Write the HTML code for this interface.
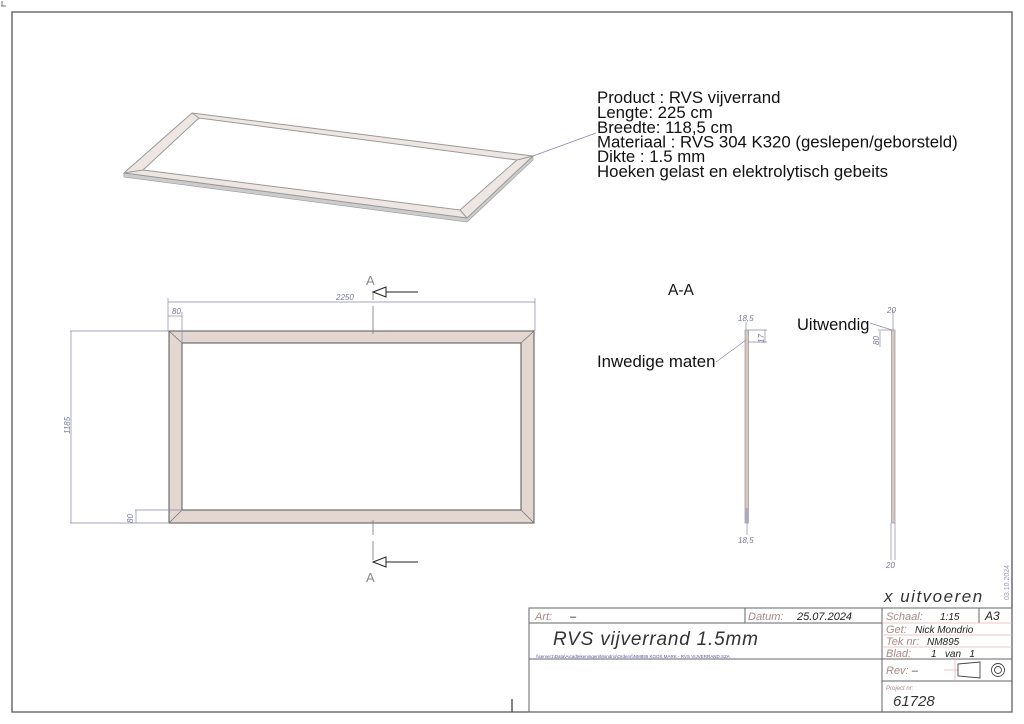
<!DOCTYPE html>
<html><head><meta charset="utf-8"><style>
html,body{margin:0;padding:0;background:#fff}
svg{display:block}
text{font-family:"Liberation Sans",sans-serif}
.l{fill:#a88;font-style:italic}
.v{fill:#222;font-style:italic}
.d{fill:#779;font-style:italic;font-size:8px}
</style></head><body>
<svg width="1024" height="724" viewBox="0 0 1024 724" xmlns="http://www.w3.org/2000/svg">
<rect x="0" y="0" width="1024" height="724" fill="#fff"/>
<path d="M12 12 H1012 V712 H12 Z" fill="none" stroke="#555" stroke-width="1.3"/>
<path d="M1 6 H6 M2 1 V6" stroke="#777" stroke-width="1"/>
<line x1="512" y1="699" x2="512" y2="712" stroke="#333" stroke-width="1.2"/>

<!-- iso view -->
<polygon points="124,173 467,218 533,156 533,160 467,222 124,177" fill="#ccc" stroke="#999" stroke-width="0.6"/>
<path d="M192 113 L533 156 L467 218 L124 173 Z M199 118 L143 170 L460 210 L517 160 Z" fill="#eee6e2" fill-rule="evenodd" stroke="#999" stroke-width="1"/>
<line x1="192" y1="113" x2="199" y2="118" stroke="#999"/>
<line x1="533" y1="156" x2="517" y2="160" stroke="#999"/>
<line x1="467" y1="218" x2="460" y2="210" stroke="#999"/>
<line x1="124" y1="173" x2="143" y2="170" stroke="#999"/>
<line x1="533" y1="156" x2="596" y2="133" stroke="#88a" stroke-width="0.7"/>

<g font-size="16.8" fill="#111">
<text x="597" y="103">Product : RVS vijverrand</text>
<text x="597" y="118">Lengte: 225 cm</text>
<text x="597" y="133">Breedte: 118,5 cm</text>
<text x="597" y="147.5">Materiaal : RVS 304 K320 (geslepen/geborsteld)</text>
<text x="597" y="162">Dikte : 1.5 mm</text>
<text x="597" y="177">Hoeken gelast en elektrolytisch gebeits</text>
</g>

<!-- front view -->
<path d="M169 331 H534 V523 H169 Z M182 343 V510 H521 V343 Z" fill="#e4d6d0" fill-rule="evenodd" stroke="#555" stroke-width="1"/>
<path d="M169 331 L182 343 M534 331 L521 343 M534 523 L521 510 M169 523 L182 510" stroke="#777" stroke-width="0.8"/>
<g stroke="#88a" stroke-width="0.7" fill="none">
<line x1="168" y1="302" x2="535" y2="302"/>
<line x1="168" y1="298" x2="168" y2="331"/><line x1="535" y1="298" x2="535" y2="331"/>
<line x1="168" y1="316" x2="182" y2="316"/><line x1="182" y1="312" x2="182" y2="343"/>
<line x1="70" y1="331" x2="169" y2="331"/><line x1="70" y1="523" x2="169" y2="523"/>
<line x1="71" y1="331" x2="71" y2="523"/>
<line x1="135" y1="510" x2="182" y2="510"/><line x1="136" y1="510" x2="136" y2="523"/>
</g>
<text x="336" y="300" class="d">2250</text>
<text x="172" y="314" class="d">80</text>
<text x="0" y="0" class="d" transform="translate(70 434) rotate(-90)">1185</text>
<text x="0" y="0" class="d" transform="translate(133 523) rotate(-90)">80</text>
<g stroke="#777" stroke-width="0.8">
<line x1="373" y1="292" x2="373" y2="300"/><line x1="373" y1="306" x2="373" y2="334"/>
<line x1="373" y1="520" x2="373" y2="535"/><line x1="373" y1="541" x2="373" y2="560"/>
</g>
<g stroke="#222" stroke-width="1" fill="#fff">
<line x1="386" y1="292" x2="418" y2="292"/><path d="M373 292 L386 287 L386 297 Z"/>
<line x1="386" y1="562" x2="418" y2="562"/><path d="M373 562 L386 557 L386 567 Z"/>
</g>
<text x="366" y="285" font-size="13" fill="#888">A</text>
<text x="366" y="582" font-size="13" fill="#888">A</text>

<!-- section views -->
<text x="668" y="295" font-size="15.5" fill="#111">A-A</text>
<rect x="745" y="330" width="3.5" height="193" fill="#d8c8c4" stroke="#888" stroke-width="0.6"/>
<rect x="745" y="508" width="3.5" height="15" fill="#aab" />
<g stroke="#88a" stroke-width="0.7" fill="none">
<line x1="746" y1="322" x2="746" y2="330"/><line x1="748" y1="330" x2="767" y2="330"/>
<line x1="748" y1="342" x2="767" y2="342"/><line x1="765" y1="330" x2="765" y2="342"/>
<line x1="747" y1="523" x2="747" y2="535"/>
<line x1="716" y1="362" x2="746" y2="340"/>
<line x1="893" y1="310" x2="893" y2="330"/><line x1="878" y1="330" x2="893" y2="330"/>
<line x1="870" y1="323" x2="892" y2="330"/>
<line x1="880" y1="331" x2="880" y2="347"/>
<line x1="891" y1="523" x2="891" y2="560"/><line x1="895" y1="523" x2="895" y2="560"/>
</g>
<rect x="891.5" y="330" width="3.5" height="193" fill="#d8c8c4" stroke="#888" stroke-width="0.6"/>
<text x="738" y="321" class="d">18,5</text>
<text x="0" y="0" class="d" transform="translate(764 343) rotate(-90)">17</text>
<text x="738" y="543" class="d">18,5</text>
<text x="887" y="313" class="d">20</text>
<text x="0" y="0" class="d" transform="translate(879 345) rotate(-90)">80</text>
<text x="886" y="568" class="d">20</text>
<text x="797" y="330" font-size="16.5" fill="#111">Uitwendig</text>
<text x="597" y="367" font-size="16.8" fill="#111">Inwedige maten</text>

<!-- title block -->
<text x="884" y="602" font-size="17" fill="#333" font-style="italic" letter-spacing="1.5">x uitvoeren</text>
<text x="0" y="0" font-size="7" fill="#99b" transform="translate(1009 600) rotate(-90)">03.10.2024</text>
<g stroke="#666" stroke-width="1" fill="none">
<rect x="529" y="608" width="483" height="104"/>
<line x1="882" y1="608" x2="882" y2="712"/>
<line x1="529" y1="623" x2="882" y2="623"/>
<line x1="529" y1="659" x2="1012" y2="659"/>
<line x1="745" y1="608" x2="745" y2="623"/>
<line x1="882" y1="681" x2="1012" y2="681"/>
<line x1="979" y1="608" x2="979" y2="623"/>
</g>
<g stroke="#e0b8b8" stroke-width="0.8">
<line x1="882" y1="623" x2="1012" y2="623"/>
<line x1="882" y1="635" x2="1012" y2="635"/>
<line x1="882" y1="647" x2="1012" y2="647"/>
<line x1="955" y1="659" x2="955" y2="681"/>
<line x1="944" y1="670" x2="958" y2="670"/>
</g>
<path d="M958 664 L980 662 L980 678 L958 676 Z" fill="none" stroke="#444" stroke-width="0.9"/>
<circle cx="998" cy="670" r="6.5" fill="none" stroke="#444" stroke-width="0.9"/>
<circle cx="998" cy="670" r="3.5" fill="none" stroke="#444" stroke-width="0.9"/>
<text x="535" y="620" font-size="11" class="l">Art:</text>
<text x="570" y="620" font-size="11" class="v">–</text>
<text x="748" y="620" font-size="11" class="l">Datum:</text>
<text x="797" y="620" font-size="11" class="v">25.07.2024</text>
<text x="553" y="645" font-size="19" fill="#333" font-style="italic" letter-spacing="0.8">RVS vijverrand 1.5mm</text>
<text x="536" y="658" font-size="4.5" fill="#55a">\\server1\Data\Aicadtekeningen\Mondrio\Orders\\NM895 KOOS MARK - RVS VIJVERRAND.SZA</text>
<text x="886" y="620" font-size="11" class="l">Schaal:</text>
<text x="940" y="620" font-size="10" class="v">1:15</text>
<text x="985" y="620" font-size="12" class="v">A3</text>
<text x="886" y="633" font-size="11" class="l">Get:</text>
<text x="915" y="633" font-size="10" class="v">Nick Mondrio</text>
<text x="886" y="645" font-size="11" class="l">Tek nr:</text>
<text x="927" y="645" font-size="10" class="v">NM895</text>
<text x="886" y="657" font-size="11" class="l">Blad:</text>
<text x="931" y="657" font-size="10" class="v">1&#160;&#160;&#160;van&#160;&#160;&#160;1</text>
<text x="886" y="674" font-size="11" class="l">Rev: <tspan fill="#444">–</tspan></text>
<text x="886" y="690" font-size="6" class="l">Project nr:</text>
<text x="893" y="706" font-size="15" fill="#333" font-style="italic">61728</text>
</svg>
</body></html>
